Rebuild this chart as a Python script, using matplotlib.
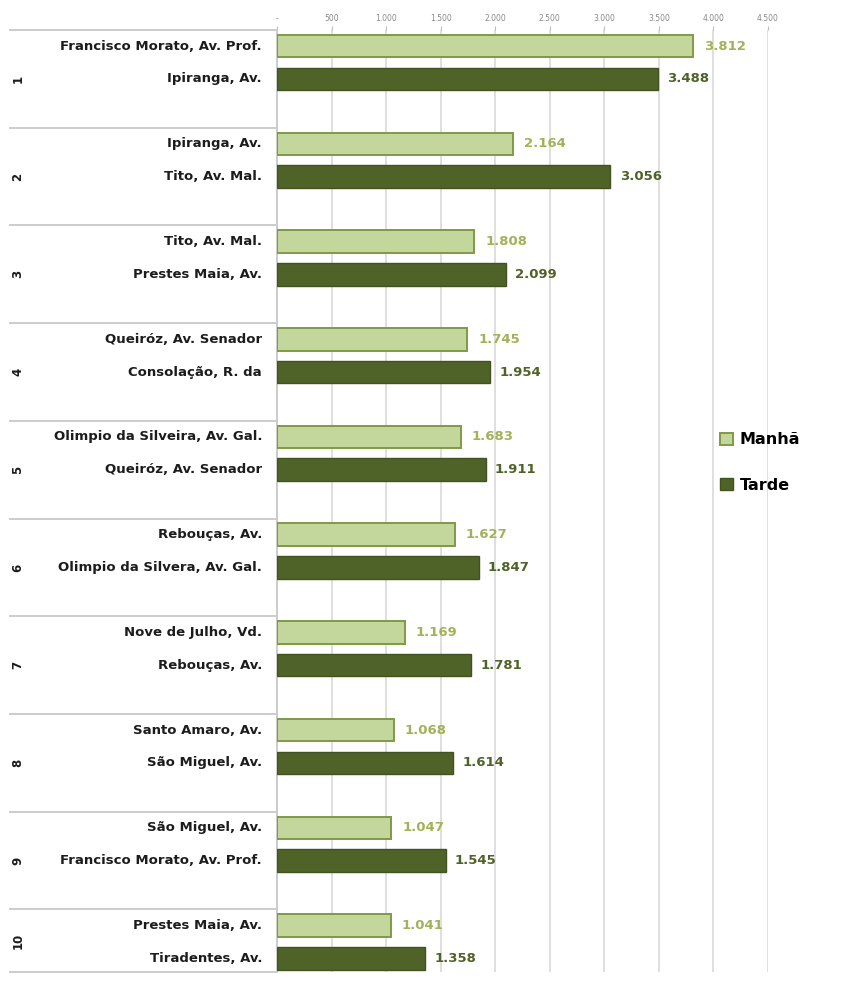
import numpy as np
import matplotlib.pyplot as plt
from matplotlib.patches import Patch

groups = ["1", "2", "3", "4", "5", "6", "7", "8", "9", "10"]
manha_streets = [
    "Francisco Morato, Av. Prof.", "Ipiranga, Av.", "Tito, Av. Mal.",
    "Queiróz, Av. Senador", "Olimpio da Silveira, Av. Gal.", "Rebouças, Av.",
    "Nove de Julho, Vd.", "Santo Amaro, Av.", "São Miguel, Av.",
    "Prestes Maia, Av.",
]
tarde_streets = [
    "Ipiranga, Av.", "Tito, Av. Mal.", "Prestes Maia, Av.",
    "Consolação, R. da", "Queiróz, Av. Senador", "Olimpio da Silvera, Av. Gal.",
    "Rebouças, Av.", "São Miguel, Av.", "Francisco Morato, Av. Prof.",
    "Tiradentes, Av.",
]
manha = [3812, 2164, 1808, 1745, 1683, 1627, 1169, 1068, 1047, 1041]
tarde = [3488, 3056, 2099, 1954, 1911, 1847, 1781, 1614, 1545, 1358]
x_ticks = [0, 500, 1000, 1500, 2000, 2500, 3000, 3500, 4000, 4500]

LIGHT = "#C3D69B"
LIGHT_EDGE = "#7F9A45"
DARK = "#4F6228"
DARK_EDGE = "#43531F"
TEXT = "#1c1c1c"


def fmt(v):
    return "-" if v == 0 else f"{v:,}".replace(",", ".")


fig = plt.figure(figsize=(8.42, 9.89), dpi=100)
W, H = 842, 989
ax = fig.add_axes([277 / W, (H - 972) / H, 491 / W, 942 / H])

n = len(groups)
idx = np.arange(n)
y_bottom = 9.64
bar_h = 0.23

ax.barh(idx + 0.165, manha, height=bar_h, color=LIGHT, edgecolor=LIGHT_EDGE,
        linewidth=1.4, zorder=3)
ax.barh(idx + 0.50, tarde, height=bar_h, color=DARK, edgecolor=DARK_EDGE,
        linewidth=1.0, zorder=3)

for i in range(n):
    ax.text(manha[i] + 100, i + 0.165, fmt(manha[i]), va="center", ha="left",
            fontsize=9.5, color="#A3B158", fontweight="bold")
    ax.text(tarde[i] + 85, i + 0.50, fmt(tarde[i]), va="center", ha="left",
            fontsize=9.5, color=DARK, fontweight="bold")

ax.set_xlim(0, 4500)
ax.set_ylim(y_bottom, 0)
ax.xaxis.tick_top()
ax.set_xticks(x_ticks)
ax.set_xticklabels([fmt(t) for t in x_ticks], fontsize=5.5, color="#888888")
ax.tick_params(axis="x", length=3, color="#BBBBBB", pad=2)
ax.set_yticks([])
ax.grid(axis="x", color="#D9D9D9", linewidth=1.2, zorder=0)
for s in ["top", "right", "bottom"]:
    ax.spines[s].set_visible(False)
ax.spines["left"].set_color("#CCCCCC")
ax.spines["left"].set_linewidth(1.4)

# multi-level category axis on the left
tr = ax.get_yaxis_transform()
x0 = (10 - 277) / 491
for yy in list(idx) + [y_bottom]:
    ax.plot([x0, 0], [yy, yy], transform=tr, color="#CCCCCC", lw=1.4,
            clip_on=False)
lab_x = (262 - 277) / 491
num_x = (18 - 277) / 491
for i in range(n):
    ax.text(lab_x, i + 0.165, manha_streets[i], transform=tr, ha="right",
            va="center", fontsize=9.5, fontweight="bold", color=TEXT)
    ax.text(lab_x, i + 0.50, tarde_streets[i], transform=tr, ha="right",
            va="center", fontsize=9.5, fontweight="bold", color=TEXT)
    yc = i + 0.5 if i < n - 1 else (i + y_bottom) / 2
    ax.text(num_x, yc, groups[i], transform=tr, ha="center", va="center",
            rotation=90, fontsize=8.5, fontweight="bold", color=TEXT)

handles = [
    Patch(facecolor=LIGHT, edgecolor=LIGHT_EDGE, linewidth=1.4, label="Manhã"),
    Patch(facecolor=DARK, edgecolor=DARK_EDGE, label="Tarde"),
]
fig.legend(handles=handles, loc="upper left",
           bbox_to_anchor=(706 / W, 1 - 418 / H), frameon=False,
           labelspacing=1.9, handlelength=0.8, handleheight=0.8,
           handletextpad=0.4, prop={"weight": "bold", "size": 11.5})

fig.savefig("out.png", dpi=100, facecolor="white")
